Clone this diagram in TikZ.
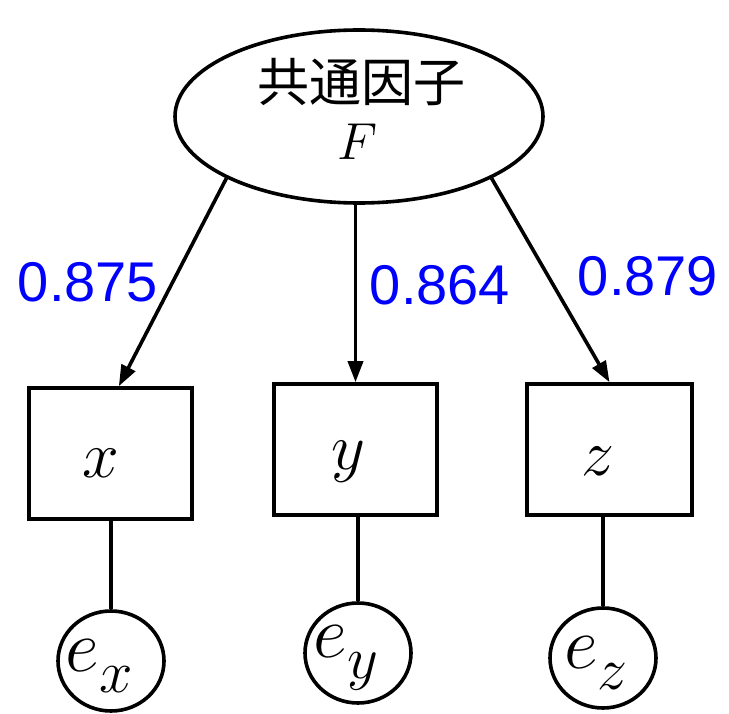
\RequirePackage{fix-cm}
\documentclass[tikz,border=0pt]{standalone}
\usepackage{fontspec}
\usetikzlibrary{arrows.meta,shapes.geometric,calc}
\newfontfamily\cjk{Noto Sans CJK JP}
\newfontfamily\numfont{Liberation Sans}
% error-term label: large e with a nearly full-size subscript
\newcommand{\errlab}[1]{$e$\raisebox{-0.28em}{\fontsize{60}{60}\selectfont$#1$}}
\begin{document}
\begin{tikzpicture}[x=1pt,y=-1pt, line width=3.6pt,
  factor/.style={draw, ellipse, minimum width=368pt, minimum height=173pt, inner sep=0pt},
  obs/.style={draw, rectangle, minimum width=163pt, minimum height=131pt, inner sep=0pt},
  err/.style={draw, ellipse, minimum width=106pt, minimum height=100pt, inner sep=0pt},
  errtext/.style={font=\fontsize{74}{74}\selectfont, inner sep=0pt},
  load/.style={-{Triangle[length=21pt,width=15pt]}},
  coef/.style={text=blue, font=\numfont\fontsize{56}{56}\selectfont, inner sep=0pt},
  var/.style={font=\fontsize{66}{66}\selectfont, inner sep=0pt}]
  \useasboundingbox (0,0) rectangle (729,714);

  % common factor
  \node[factor] (F) at (359,116.5) {};
  \node[font=\cjk\fontsize{52}{52}\selectfont, inner sep=0pt] (Ft) at (361,82) {共通因子};
  \node[font=\fontsize{52}{52}\selectfont, inner sep=0pt] (Fs) at (358,142) {$F$};

  % observed variables
  \node[obs] (bx) at (110.5,453.5) {};
  \node[obs] (by) at (355.5,449.5) {};
  \node[obs, minimum width=165pt] (bz) at (609.5,449.5) {};
  \node[var] (lx) at (101,463) {$x$};
  \node[var] (ly) at (348,462) {$y$};
  \node[var] (lz) at (598,461) {$z$};

  % error terms
  \node[err] (ex) at (111,661) {};
  \node[err] (ey) at (358,653) {};
  \node[err] (ez) at (603,658) {};
  \node[errtext] (tx) at (99,666) {\errlab{x}};
  \node[errtext] (ty) at (346,658) {\errlab{y}};
  \node[errtext] (tz) at (596,663) {\errlab{z}};

  % loadings
  \draw[load] (F.205) -- ($(bx.north west)!0.55!(bx.north east)$);
  \draw[load] (F.south -| by.north) -- (by.north);
  \draw[load] (F.335) -- (bz.north);

  \node[coef] (c1) at (88,282) {0.875};
  \node[coef] (c2) at (440,285) {0.864};
  \node[coef] (c3) at (648,276) {0.879};

  % error links
  \draw (bx.south -| ex.north) -- (ex.north);
  \draw (by.south -| ey.north) -- (ey.north);
  \draw (bz.south -| ez.north) -- (ez.north);
\end{tikzpicture}
\end{document}
